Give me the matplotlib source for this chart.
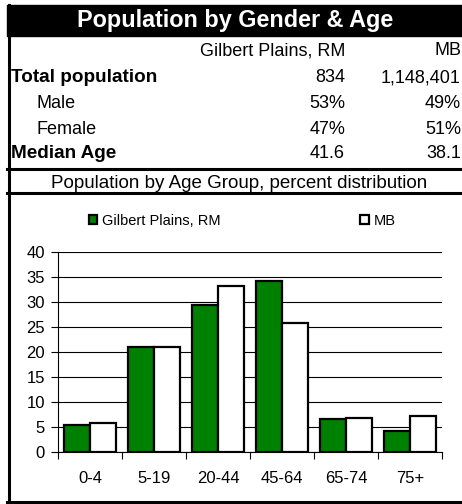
import matplotlib
matplotlib.use("Agg")
import matplotlib.pyplot as plt
from matplotlib.patches import Rectangle
from matplotlib.lines import Line2D
import numpy as np

plt.rcParams['font.family'] = ['Liberation Sans', 'DejaVu Sans']

# data
age_groups = ['0-4', '5-19', '20-44', '45-64', '65-74', '75+']
gilbert = [5.4, 21.0, 29.5, 34.3, 6.6, 4.3]
mb = [5.9, 21.0, 33.3, 25.9, 6.9, 7.2]
series_names = ['Gilbert Plains, RM', 'MB']

row_labels = ['Total population', 'Male', 'Female', 'Median Age']
row_bold = [True, False, False, True]
gilbert_col = ['834', '53%', '47%', '41.6']
mb_col = ['1,148,401', '49%', '51%', '38.1']

W, H = 462, 504
fig = plt.figure(figsize=(W / 100, H / 100), dpi=100)

def fx(px):
    return px / W

def fy(py):
    return 1 - py / H

# title bar
fig.patches.append(Rectangle((fx(7), fy(36)), fx(462 - 7), 31 / H,
                             transform=fig.transFigure, color='black', zorder=0))
fig.text(fx(235), fy(27.5), 'Population by Gender & Age', color='white',
         fontsize=16.8, fontweight='bold', ha='center', va='baseline')

# frame lines
lw = 2.2
fig.lines.append(Line2D([fx(8.5), fx(8.5)], [fy(5), fy(503)], color='black', lw=lw,
                        transform=fig.transFigure))
for yy in [169, 193, 502]:
    fig.lines.append(Line2D([fx(7), fx(462)], [fy(yy), fy(yy)], color='black', lw=lw,
                            transform=fig.transFigure))

# table
fs = 13
fig.text(fx(345), fy(55), series_names[0], fontsize=fs, ha='right', va='baseline')
fig.text(fx(461), fy(55), series_names[1], fontsize=fs, ha='right', va='baseline')
baselines = [82.5, 108.5, 134, 158.5]
for lab, b, g, m, yy in zip(row_labels, row_bold, gilbert_col, mb_col, baselines):
    fig.text(fx(11) if b else fx(37), fy(yy), lab, fontsize=13.6 if b else fs,
             fontweight='bold' if b else 'normal', ha='left', va='baseline')
    fig.text(fx(345), fy(yy), g, fontsize=fs, ha='right', va='baseline')
    fig.text(fx(461), fy(yy), m, fontsize=fs, ha='right', va='baseline')

fig.text(fx(239), fy(188), 'Population by Age Group, percent distribution',
         fontsize=13.5, ha='center', va='baseline')

# chart
ax = fig.add_axes([fx(58), fy(452), fx(442 - 58), (452 - 252) / H])
x = np.arange(len(age_groups))
w = 0.406
ax.bar(x - w / 2, gilbert, w, color='#008000', edgecolor='black', linewidth=1.6,
       label=series_names[0], zorder=3)
ax.bar(x + w / 2, mb, w, color='white', edgecolor='black', linewidth=1.6,
       label=series_names[1], zorder=3)

ax.set_xlim(-0.5, len(age_groups) - 0.5)
ax.set_ylim(0, 40)
ax.set_yticks(range(0, 41, 5))
ax.yaxis.grid(True, color='black', linewidth=0.8)
ax.set_axisbelow(True)
for s in ['top', 'right']:
    ax.spines[s].set_visible(False)
ax.spines['left'].set_linewidth(0.8)
ax.spines['bottom'].set_linewidth(0.8)
ax.set_xticks(x)
ax.set_xticklabels(age_groups)
ax.set_xticks(np.arange(-0.5, len(age_groups), 1), minor=True)
ax.tick_params(axis='x', which='major', length=0, pad=13.5, labelsize=12)
ax.tick_params(axis='x', which='minor', length=5, width=0.8, direction='out')
ax.tick_params(axis='y', length=5, width=0.8, pad=4.5, labelsize=12)

fig.legend(loc='center left', bbox_to_anchor=(fx(89), fy(221)), ncol=2,
           frameon=False, fontsize=10.5, handlelength=0.58, handleheight=0.58,
           handletextpad=0.3, columnspacing=9.6, borderpad=0, borderaxespad=0)

fig.savefig('out.png', dpi=100)
